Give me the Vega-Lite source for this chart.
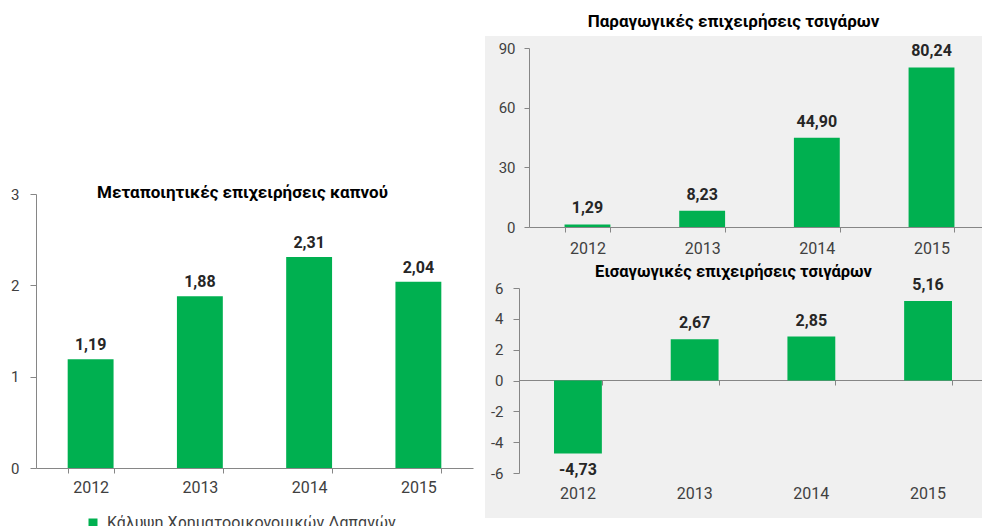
{
  "$schema": "https://vega.github.io/schema/vega-lite/v6.json",
  "background": "white",
  "padding": {"left": 0, "top": 13, "right": 0, "bottom": 0},
  "datasets": {
    "left": [
      {"year": "2012", "v": 1.19, "series": "Κάλυψη Χρηματοοικονομικών Δαπανών"},
      {"year": "2013", "v": 1.88, "series": "Κάλυψη Χρηματοοικονομικών Δαπανών"},
      {"year": "2014", "v": 2.31, "series": "Κάλυψη Χρηματοοικονομικών Δαπανών"},
      {"year": "2015", "v": 2.04, "series": "Κάλυψη Χρηματοοικονομικών Δαπανών"}
    ],
    "prod": [
      {"year": "2012", "v": 1.29},
      {"year": "2013", "v": 8.23},
      {"year": "2014", "v": 44.90},
      {"year": "2015", "v": 80.24}
    ],
    "imp": [
      {"year": "2012", "v": -4.73},
      {"year": "2013", "v": 2.67},
      {"year": "2014", "v": 2.85},
      {"year": "2015", "v": 5.16}
    ]
  },
  "bounds": "flush",
  "spacing": 0,
  "hconcat": [
    {
      "width": 485,
      "height": 490,
      "view": {"stroke": null},
      "data": {"name": "left"},
      "title": {"text": "Μεταποιητικές επιχειρήσεις καπνού", "fontSize": 17, "fontWeight": "bold", "color": "#000000", "anchor": "middle", "frame": "group", "baseline": "middle", "offset": -174},
      "encoding": {
        "x": {"field": "year", "type": "ordinal", "scale": {"range": [36, 473], "paddingInner": 0.58, "paddingOuter": 0.29},
              "axis": {"title": null, "labelAngle": 0, "orient": "bottom", "offset": -58, "tickBand": "extent", "tickSize": 5, "labelPadding": 6, "labelFontSize": 16}},
        "y": {"field": "v", "type": "quantitative", "scale": {"domain": [0, 3], "range": [432, 158], "nice": false, "zero": false},
              "axis": {"title": null, "values": [0, 1, 2, 3], "offset": -36, "tickSize": 6, "labelPadding": 11, "labelFontSize": 15, "format": "d"}}
      },
      "layer": [
        {
          "mark": {"type": "bar", "color": "#00B050"},
          "encoding": {
            "color": {"field": "series", "type": "nominal", "scale": {"range": ["#00B050"]},
                      "legend": {"orient": "none", "legendX": 85, "legendY": 479, "title": null, "symbolType": "square", "symbolSize": 81, "symbolStrokeWidth": 0, "labelFontSize": 16, "labelColor": "#404040", "labelOffset": 6, "labelLimit": 500}}
          }
        },
        {
          "mark": {"type": "text", "baseline": "alphabetic", "dy": -9, "fontWeight": "bold", "fontSize": 16, "color": "#262626"},
          "encoding": {"text": {"field": "v", "type": "quantitative", "format": ".2f"}}
        }
      ]
    },
    {
      "bounds": "flush",
      "spacing": 0,
      "vconcat": [
        {
          "width": 497,
          "height": 222,
          "view": {"fill": "#f0f0f0", "stroke": null},
          "data": {"name": "prod"},
          "title": {"text": "Παραγωγικές επιχειρήσεις τσιγάρων", "fontSize": 17, "fontWeight": "bold", "color": "#000000", "anchor": "middle", "frame": "group", "baseline": "middle", "offset": -3},
          "encoding": {
            "x": {"field": "year", "type": "ordinal", "scale": {"range": [44, 505], "paddingInner": 0.6, "paddingOuter": 0.31},
                  "axis": {"title": null, "labelAngle": 0, "orient": "bottom", "offset": -31, "tickBand": "extent", "tickSize": 5, "labelPadding": 8, "labelFontSize": 16}},
            "y": {"field": "v", "type": "quantitative", "scale": {"domain": [0, 90], "range": [191, 12], "nice": false, "zero": false},
                  "axis": {"title": null, "values": [0, 30, 60, 90], "offset": -44, "tickSize": 5, "labelPadding": 9, "labelFontSize": 15, "format": "d"}}
          },
          "layer": [
            {"mark": {"type": "bar", "color": "#00B050"}, "encoding": {}},
            {
              "mark": {"type": "text", "baseline": "alphabetic", "dy": -11, "fontWeight": "bold", "fontSize": 16, "color": "#262626"},
              "encoding": {"text": {"field": "v", "type": "quantitative", "format": ".2f"}}
            }
          ]
        },
        {
          "width": 497,
          "height": 260,
          "view": {"fill": "#f0f0f0", "stroke": null},
          "data": {"name": "imp"},
          "title": {"text": "Εισαγωγικές επιχειρήσεις τσιγάρων", "fontSize": 16.5, "fontWeight": "bold", "color": "#000000", "anchor": "middle", "frame": "group", "baseline": "middle", "offset": -30},
          "encoding": {
            "x": {"field": "year", "type": "ordinal", "scale": {"range": [34, 502], "paddingInner": 0.59, "paddingOuter": 0.3}},
            "y": {"field": "v", "type": "quantitative", "scale": {"domain": [-6, 6], "range": [215, 30], "nice": false, "zero": false},
                  "axis": {"title": null, "values": [-6, -4, -2, 0, 2, 4, 6], "offset": -34, "tickSize": 6, "labelPadding": 10, "labelFontSize": 15, "format": "d"}}
          },
          "resolve": {"axis": {"x": "independent"}},
          "layer": [
            {
              "mark": {"type": "bar", "color": "#00B050"},
              "encoding": {
                "x": {"field": "year", "type": "ordinal",
                      "axis": {"title": null, "orient": "top", "offset": -122, "labels": false, "tickBand": "extent", "tickSize": -5, "domain": true}}
              }
            },
            {
              "transform": [{"filter": "datum.v >= 0"}],
              "mark": {"type": "text", "baseline": "alphabetic", "dy": -11, "fontWeight": "bold", "fontSize": 16, "color": "#262626"},
              "encoding": {
                "x": {"field": "year", "type": "ordinal",
                      "axis": {"title": null, "orient": "bottom", "labelAngle": 0, "offset": -38, "domain": false, "ticks": false, "labelPadding": 5, "labelFontSize": 16}},
                "text": {"field": "v", "type": "quantitative", "format": ".2f"}
              }
            },
            {
              "transform": [{"filter": "datum.v < 0"}],
              "mark": {"type": "text", "baseline": "top", "dy": 9, "fontWeight": "bold", "fontSize": 16, "color": "#262626"},
              "encoding": {
                "x": {"field": "year", "type": "ordinal", "axis": null},
                "text": {"field": "v", "type": "quantitative", "format": ".2f"}
              }
            }
          ]
        }
      ]
    }
  ],
  "config": {
    "font": "Roboto",
    "locale": {"number": {"decimal": ",", "thousands": ".", "grouping": [3], "currency": ["", " €"], "minus": "-"}},
    "axis": {"grid": false, "labelFont": "Roboto", "labelColor": "#404040", "domainColor": "#868686", "tickColor": "#868686"},
    "legend": {"labelFont": "Roboto"},
    "title": {"font": "Roboto"},
    "view": {"stroke": null}
  }
}
